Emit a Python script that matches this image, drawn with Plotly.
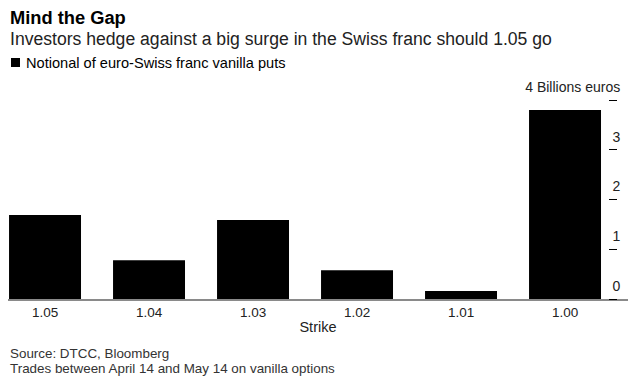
import plotly.graph_objects as go

strikes = ["1.05", "1.04", "1.03", "1.02", "1.01", "1.00"]
notional = [1.69, 0.78, 1.59, 0.58, 0.16, 3.80]
y_tickvals = [0, 1, 2, 3, 4]
y_ticktext = ["0", "1", "2", "3", "4 Billions euros"]
series_name = "Notional of euro-Swiss franc vanilla puts"

W, H = 633, 385
L, R = 8, 628
T, B = 75, 299
PXU = 49.75  # pixels per billion
FONT = "Liberation Sans, Arial, sans-serif"

def py(Y):
    return (B - Y) / (B - T)

def px(X):
    return (X - L) / (R - L)

fig = go.Figure()
fig.add_trace(go.Bar(
    x=list(range(len(strikes))), y=notional,
    marker=dict(color="#000000", line=dict(width=0)),
    name=series_name, showlegend=False, width=0.692,
))

fig.update_layout(
    width=W, height=H,
    margin=dict(l=L, r=W - R, t=T, b=H - B, pad=0, autoexpand=False),
    plot_bgcolor="white", paper_bgcolor="white",
    font=dict(family=FONT, color="#000000"),
    showlegend=False,
    xaxis=dict(
        range=[-0.356, -0.356 + (R - L) / 104],
        tickvals=list(range(len(strikes))), ticktext=strikes,
        showgrid=False, zeroline=False, automargin=False,
        showline=True, linecolor="#8a8a8a", linewidth=2,
        ticks="", tickfont=dict(size=13.5, color="#222222"),
        title=dict(text="Strike", font=dict(size=14.5, color="#222222"), standoff=3),
    ),
    yaxis=dict(
        range=[0, (B - T) / PXU], side="left", anchor="free", position=px(617),
        tickvals=y_tickvals, ticktext=y_ticktext, automargin=False,
        ticks="outside", ticklen=8, tickwidth=1, tickcolor="#000000",
        ticklabelposition="outside", ticklabelshift=-13, ticklabelstandoff=-14,
        showgrid=False, zeroline=False, showline=False,
        tickfont=dict(size=14, color="#222222"),
    ),
    shapes=[
        dict(type="rect", xref="paper", yref="paper",
             x0=px(11), x1=px(20), y0=py(58), y1=py(67),
             fillcolor="#000000", line=dict(width=0)),
    ],
    annotations=[
        dict(text="<b>Mind the Gap</b>", x=0, y=py(18), xref="paper", yref="paper",
             xanchor="left", yanchor="middle", showarrow=False,
             font=dict(size=18.3, color="#000000")),
        dict(text="Investors hedge against a big surge in the Swiss franc should 1.05 go",
             x=0, y=py(39), xref="paper", yref="paper",
             xanchor="left", yanchor="middle", showarrow=False,
             font=dict(size=17.6, color="#222222")),
        dict(text=series_name, x=px(24), y=py(63), xref="paper", yref="paper",
             xanchor="left", yanchor="middle", showarrow=False,
             font=dict(size=14.6, color="#000000")),
        dict(text="Source: DTCC, Bloomberg",
             x=0, y=py(353), xref="paper", yref="paper", align="left",
             xanchor="left", yanchor="middle", showarrow=False,
             font=dict(size=13.4, color="#333333")),
        dict(text="Trades between April 14 and May 14 on vanilla options",
             x=0, y=py(368), xref="paper", yref="paper", align="left",
             xanchor="left", yanchor="middle", showarrow=False,
             font=dict(size=13.4, color="#333333")),
    ],
)

fig.write_html("out.html", config={"displayModeBar": False},
               post_script="document.body.style.margin='0';")
